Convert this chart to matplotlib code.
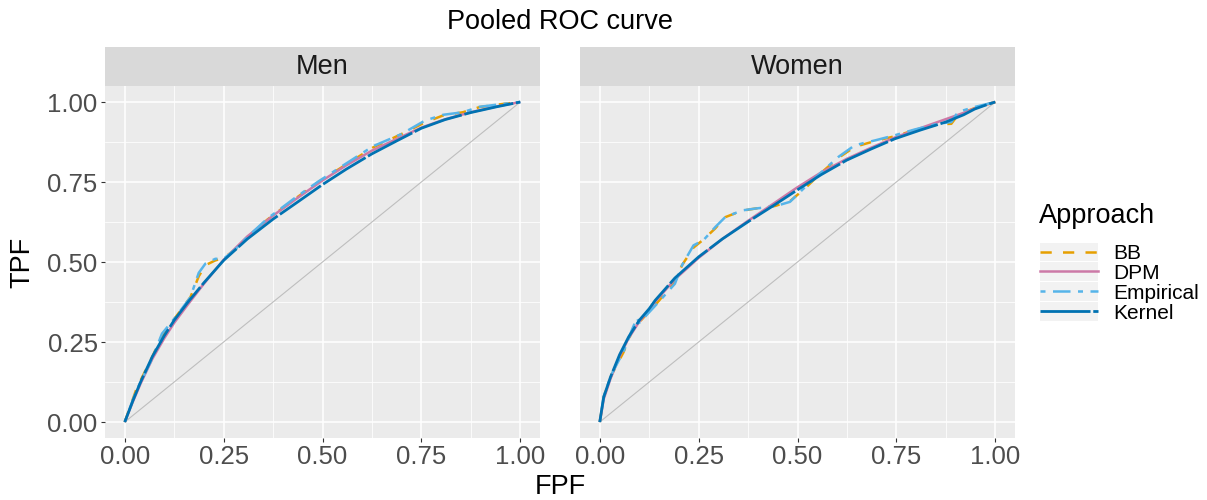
import numpy as np
import matplotlib.pyplot as plt
from matplotlib.legend_handler import HandlerLine2D
from matplotlib.lines import Line2D
from matplotlib.patches import Rectangle

plt.rcParams['font.family'] = ['Liberation Sans', 'DejaVu Sans']

# ---- data ----
panels = ["Men", "Women"]
approaches = ["BB", "DPM", "Empirical", "Kernel"]

men_kernel_fpf = [0, 0.02, 0.04, 0.07, 0.1, 0.125, 0.16, 0.2, 0.25, 0.31, 0.375, 0.44, 0.5, 0.56, 0.625, 0.69, 0.75, 0.81, 0.875, 0.94, 1]
men_kernel_tpf = [0, 0.065, 0.125, 0.205, 0.27, 0.318, 0.375, 0.435, 0.505, 0.572, 0.634, 0.69, 0.742, 0.79, 0.838, 0.88, 0.918, 0.945, 0.967, 0.985, 1]

men_dpm_fpf = [0, 0.02, 0.04, 0.07, 0.1, 0.125, 0.16, 0.2, 0.25, 0.31, 0.375, 0.44, 0.5, 0.56, 0.625, 0.69, 0.75, 0.81, 0.875, 0.94, 1]
men_dpm_tpf = [0, 0.062, 0.12, 0.198, 0.262, 0.31, 0.368, 0.432, 0.507, 0.58, 0.645, 0.703, 0.755, 0.802, 0.848, 0.886, 0.92, 0.946, 0.968, 0.986, 1]

men_emp_fpf = [0, 0.03, 0.07, 0.094, 0.13, 0.166, 0.187, 0.204, 0.229, 0.25, 0.28, 0.31, 0.36, 0.43, 0.49, 0.55, 0.628, 0.7, 0.759, 0.805, 0.855, 0.897, 0.95, 1]
men_emp_tpf = [0, 0.1, 0.2, 0.276, 0.33, 0.39, 0.466, 0.495, 0.51, 0.51, 0.54, 0.578, 0.635, 0.7, 0.752, 0.8, 0.862, 0.9, 0.942, 0.96, 0.968, 0.985, 0.993, 1]

men_bb_fpf = [0, 0.03, 0.07, 0.094, 0.13, 0.166, 0.187, 0.204, 0.229, 0.25, 0.28, 0.31, 0.36, 0.43, 0.49, 0.55, 0.628, 0.7, 0.759, 0.805, 0.855, 0.897, 0.95, 1]
men_bb_tpf = [0, 0.105, 0.205, 0.27, 0.33, 0.39, 0.455, 0.49, 0.505, 0.512, 0.54, 0.575, 0.632, 0.697, 0.75, 0.797, 0.858, 0.9, 0.936, 0.958, 0.968, 0.984, 0.993, 1]

women_kernel_fpf = [0, 0.005, 0.01, 0.027, 0.05, 0.073, 0.1, 0.125, 0.14, 0.19, 0.25, 0.31, 0.374, 0.44, 0.498, 0.56, 0.624, 0.686, 0.746, 0.81, 0.874, 0.92, 0.948, 0.975, 1]
women_kernel_tpf = [0, 0.04, 0.078, 0.14, 0.21, 0.266, 0.318, 0.354, 0.38, 0.45, 0.516, 0.572, 0.625, 0.677, 0.724, 0.773, 0.818, 0.853, 0.885, 0.912, 0.937, 0.96, 0.978, 0.99, 1]

women_dpm_fpf = [0, 0.005, 0.01, 0.027, 0.05, 0.073, 0.1, 0.125, 0.14, 0.19, 0.25, 0.31, 0.374, 0.44, 0.498, 0.56, 0.624, 0.686, 0.746, 0.81, 0.874, 0.92, 0.948, 0.975, 1]
women_dpm_tpf = [0, 0.035, 0.072, 0.135, 0.205, 0.262, 0.314, 0.35, 0.376, 0.446, 0.513, 0.572, 0.628, 0.683, 0.732, 0.78, 0.822, 0.857, 0.889, 0.918, 0.946, 0.966, 0.98, 0.991, 1]

women_emp_fpf = [0, 0.01, 0.03, 0.06, 0.082, 0.094, 0.1, 0.149, 0.19, 0.208, 0.237, 0.262, 0.292, 0.317, 0.359, 0.393, 0.443, 0.481, 0.519, 0.561, 0.603, 0.645, 0.696, 0.746, 0.796, 0.855, 0.889, 0.906, 0.95, 1]
women_emp_tpf = [0, 0.08, 0.15, 0.22, 0.29, 0.325, 0.31, 0.375, 0.432, 0.49, 0.552, 0.568, 0.609, 0.64, 0.661, 0.667, 0.674, 0.688, 0.734, 0.781, 0.828, 0.865, 0.88, 0.896, 0.914, 0.932, 0.9375, 0.969, 0.985, 1]

women_bb_fpf = [0, 0.01, 0.03, 0.06, 0.082, 0.094, 0.1, 0.149, 0.19, 0.208, 0.237, 0.262, 0.292, 0.317, 0.359, 0.393, 0.443, 0.481, 0.519, 0.561, 0.603, 0.645, 0.696, 0.746, 0.796, 0.855, 0.889, 0.906, 0.95, 1]
women_bb_tpf = [0, 0.078, 0.148, 0.218, 0.285, 0.315, 0.312, 0.378, 0.44, 0.49, 0.545, 0.57, 0.605, 0.64, 0.66, 0.667, 0.675, 0.69, 0.73, 0.78, 0.825, 0.86, 0.878, 0.893, 0.912, 0.93, 0.932, 0.96, 0.982, 1]

curves = {
    "Men": {
        "BB": (men_bb_fpf, men_bb_tpf),
        "DPM": (men_dpm_fpf, men_dpm_tpf),
        "Empirical": (men_emp_fpf, men_emp_tpf),
        "Kernel": (men_kernel_fpf, men_kernel_tpf),
    },
    "Women": {
        "BB": (women_bb_fpf, women_bb_tpf),
        "DPM": (women_dpm_fpf, women_dpm_tpf),
        "Empirical": (women_emp_fpf, women_emp_tpf),
        "Kernel": (women_kernel_fpf, women_kernel_tpf),
    },
}

ticks = [0, 0.25, 0.5, 0.75, 1.0]
tick_labels = ["0.00", "0.25", "0.50", "0.75", "1.00"]

styles = {
    "BB": dict(color="#E69F00", lw=1.8, ls=(0, (4.5, 4.5))),
    "DPM": dict(color="#CC79A7", lw=1.8, ls="-"),
    "Empirical": dict(color="#56B4E9", lw=1.8, ls=(0, (2, 3, 7, 3))),
    "Kernel": dict(color="#0072B2", lw=2.0, ls=(0, (18, 1.0))),
}

fig = plt.figure(figsize=(12.07, 5), dpi=100)

lefts = [105 / 1207, 580 / 1207]
w = 435 / 1207
bottom = 62 / 500
h = 352 / 500

for i, name in enumerate(panels):
    ax = fig.add_axes([lefts[i], bottom, w, h])
    ax.set_facecolor("#EBEBEB")
    ax.set_xlim(-0.05, 1.05)
    ax.set_ylim(-0.05, 1.05)
    ax.set_xticks(ticks)
    ax.set_yticks(ticks)
    ax.set_xticks([0.125, 0.375, 0.625, 0.875], minor=True)
    ax.set_yticks([0.125, 0.375, 0.625, 0.875], minor=True)
    ax.grid(which="major", color="white", lw=1.1)
    ax.grid(which="minor", color="white", lw=0.55)
    ax.set_axisbelow(True)
    for s in ax.spines.values():
        s.set_visible(False)
    ax.tick_params(which="minor", length=0)
    ax.tick_params(which="major", length=2.75, width=0.8, color="#333333",
                   labelsize=18.5, labelcolor="#4D4D4D", pad=2.5)
    ax.set_xticklabels(tick_labels)
    if i == 0:
        ax.set_yticklabels(tick_labels)
    else:
        ax.tick_params(axis="y", left=False, labelleft=False)

    ax.plot([0, 1], [0, 1], color="#BEBEBE", lw=0.8)
    for a in approaches:
        x, y = curves[name][a]
        st = styles[a]
        ax.plot(x, y, color=st["color"], lw=st["lw"], linestyle=st["ls"],
                solid_capstyle="butt", dash_capstyle="butt")

    # facet strip
    sax = fig.add_axes([lefts[i], 414 / 500, w, 39 / 500])
    sax.set_facecolor("#D9D9D9")
    sax.set_xticks([])
    sax.set_yticks([])
    for s in sax.spines.values():
        s.set_visible(False)
    sax.text(0.5, 0.5, name, ha="center", va="center", fontsize=19.5,
             color="#1A1A1A", transform=sax.transAxes)

fig.text(560 / 1207, 1 - 22 / 500, "Pooled ROC curve", ha="center", va="center",
         fontsize=19.5, color="black")
fig.text(560 / 1207, 1 - 487 / 500, "FPF", ha="center", va="center", fontsize=19.5)
fig.text(22 / 1207, 1 - 262 / 500, "TPF", ha="center", va="center", fontsize=19.5,
         rotation=90)
fig.text(1039 / 1207, 1 - 216 / 500, "Approach", ha="left", va="center",
         fontsize=19.5)


class KeyHandler(HandlerLine2D):
    def create_artists(self, legend, orig_handle, xdescent, ydescent, width,
                       height, fontsize, trans):
        arts = super().create_artists(legend, orig_handle, xdescent, ydescent,
                                      width, height, fontsize, trans)
        bg = Rectangle((-xdescent, -ydescent - 1), width, height + 2,
                       facecolor="#F2F2F2", edgecolor="none", transform=trans)
        return [bg] + list(arts)


handles = [Line2D([], [], color=styles[a]["color"], lw=styles[a]["lw"],
                  linestyle=styles[a]["ls"], dash_capstyle="butt")
           for a in approaches]
leg = fig.legend(handles, approaches, loc="upper left",
                 bbox_to_anchor=(1040 / 1207, 1 - 244 / 500),
                 frameon=False, fontsize=15, handlelength=2.8, handleheight=0.8,
                 labelspacing=0.03, handletextpad=0.7, borderpad=0,
                 borderaxespad=0, handler_map={Line2D: KeyHandler()})

fig.savefig("out.png", dpi=100)
